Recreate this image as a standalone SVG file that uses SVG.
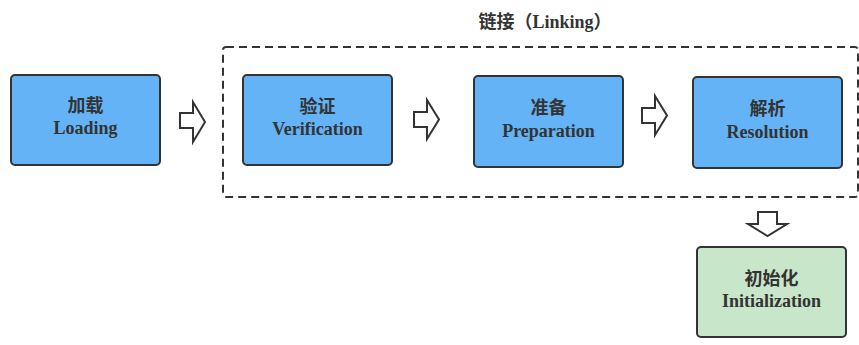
<svg xmlns="http://www.w3.org/2000/svg" width="859" height="345" viewBox="0 0 859 345">
<style>
.box{stroke:#333;stroke-width:2}
.blue{fill:#63b3f6}
.green{fill:#c8e6c9}
.t{font-family:'Liberation Serif','Times New Roman',serif;font-weight:bold;font-size:18px;fill:#333;text-anchor:middle}
.c{font-family:'Noto Sans CJK SC',sans-serif;font-weight:bold;font-size:18px;fill:#333;text-anchor:middle}
.arr{fill:#fff;stroke:#333;stroke-width:2;stroke-linejoin:miter}
</style>
<rect width="859" height="345" fill="#fff"/>
<g id="linking">
<rect x="223" y="47" width="635" height="150" rx="3" fill="none" stroke="#333" stroke-width="2" stroke-dasharray="8,5"/>
<text class="c" x="545" y="28">链接（<tspan font-family="'Liberation Serif',serif">Linking</tspan>）</text>
</g>
<g id="loading">
<rect class="box blue" x="11" y="75" width="149" height="90" rx="4"/>
<text class="c" x="85.5" y="112">加载</text>
<text class="t" x="85.5" y="134">Loading</text>
</g>
<g id="verification">
<rect class="box blue" x="243" y="75" width="149" height="90" rx="4"/>
<text class="c" x="317.5" y="113">验证</text>
<text class="t" x="317.5" y="135">Verification</text>
</g>
<g id="preparation">
<rect class="box blue" x="474" y="76" width="149" height="91" rx="4"/>
<text class="c" x="548.5" y="114">准备</text>
<text class="t" x="548.5" y="137">Preparation</text>
</g>
<g id="resolution">
<rect class="box blue" x="693" y="77" width="149" height="91" rx="4"/>
<text class="c" x="767.5" y="115">解析</text>
<text class="t" x="767.5" y="138">Resolution</text>
</g>
<g id="initialization">
<rect class="box green" x="697" y="247" width="149" height="90" rx="4"/>
<text class="c" x="771.5" y="285">初始化</text>
<text class="t" x="771.5" y="307">Initialization</text>
</g>
<g id="connectors">
<path class="arr" d="M180,113 H193 V102 L205,122 L193,142 V128 H180 Z"/>
<path class="arr" d="M414,112 H427 V100 L439,119.5 L427,139 V127 H414 Z"/>
<path class="arr" d="M642,108 H655 V96 L667,115.5 L655,135 V123 H642 Z"/>
<path class="arr" d="M758,212 H777 V224 H787 L767.5,236 L748,224 H758 Z"/>
</g>
</svg>
